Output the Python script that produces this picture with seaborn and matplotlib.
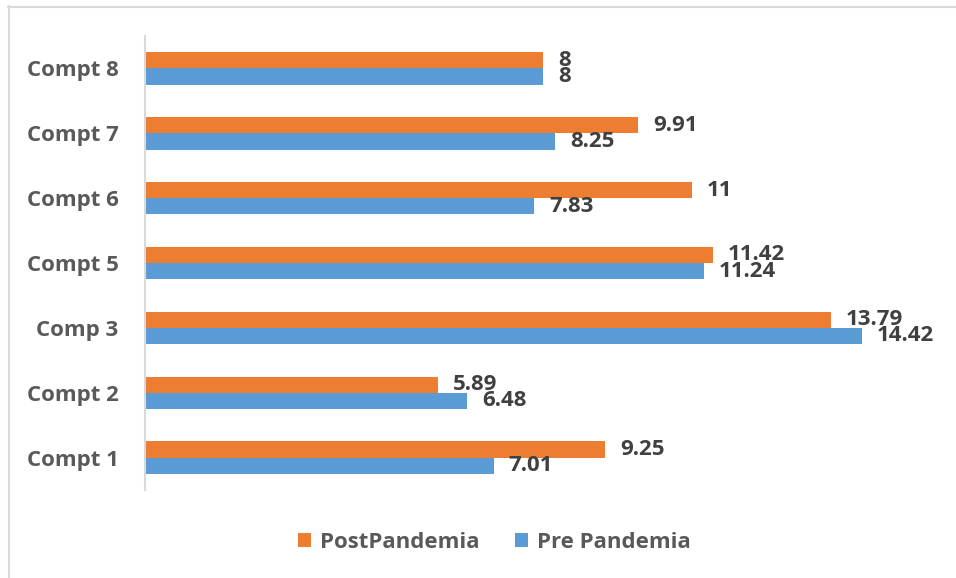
import pandas as pd
import matplotlib.pyplot as plt
from matplotlib.lines import Line2D
import seaborn as sns

# chart data, top to bottom
components = ["Compt 8", "Compt 7", "Compt 6", "Compt 5", "Comp 3", "Compt 2", "Compt 1"]
post_pandemia = [8, 9.91, 11, 11.42, 13.79, 5.89, 9.25]
pre_pandemia = [8, 8.25, 7.83, 11.24, 14.42, 6.48, 7.01]
series_names = ["PostPandemia", "Pre Pandemia"]

df = pd.DataFrame({
    "Component": components * 2,
    "Value": post_pandemia + pre_pandemia,
    "Series": [series_names[0]] * len(components) + [series_names[1]] * len(components),
})

sns.set_style("white")
plt.rcParams["font.family"] = ["Open Sans", "DejaVu Sans"]

fig = plt.figure(figsize=(9.56, 5.78), dpi=100)
ax = fig.add_axes([0.1517, 0.1522, 0.832, 0.7855])

sns.barplot(data=df, x="Value", y="Component", hue="Series", order=components,
            hue_order=series_names, palette=["#ED7D31", "#5B9BD5"], orient="h",
            width=0.5, gap=0, linewidth=0, saturation=1, ax=ax)

# value labels at the bar ends
for cont in ax.containers:
    ax.bar_label(cont, fmt="{:g}", padding=11, fontsize=16, fontweight="bold", color="#404040")

ax.set_xlim(0, 16)
ax.set_xlabel("")
ax.set_ylabel("")
ax.set_xticks([])
ax.tick_params(axis="y", length=0, pad=19, labelsize=16, labelcolor="#595959")
for lab in ax.get_yticklabels():
    lab.set_fontweight("bold")
for side in ["top", "right", "bottom"]:
    ax.spines[side].set_visible(False)
ax.spines["left"].set_color("#D9D9D9")
ax.spines["left"].set_linewidth(1.5)

# legend at the bottom
handles, labels = ax.get_legend_handles_labels()
ax.get_legend().remove()
leg = fig.legend(handles, labels, loc="center", bbox_to_anchor=(0.517, 0.061), ncol=2,
                 frameon=False, handlelength=0.6, handleheight=0.6, columnspacing=1.6,
                 handletextpad=0.4, prop={"size": 16, "weight": "bold"})
for t in leg.get_texts():
    t.set_color("#595959")

# outer chart border (top and left visible)
fig.add_artist(Line2D([8 / 956, 1], [1 - 6.5 / 578] * 2, color="#D9D9D9", lw=1.5,
                      transform=fig.transFigure))
fig.add_artist(Line2D([8.5 / 956] * 2, [0, 1 - 6 / 578], color="#D9D9D9", lw=1.5,
                      transform=fig.transFigure))

plt.savefig("out.png", dpi=100)
